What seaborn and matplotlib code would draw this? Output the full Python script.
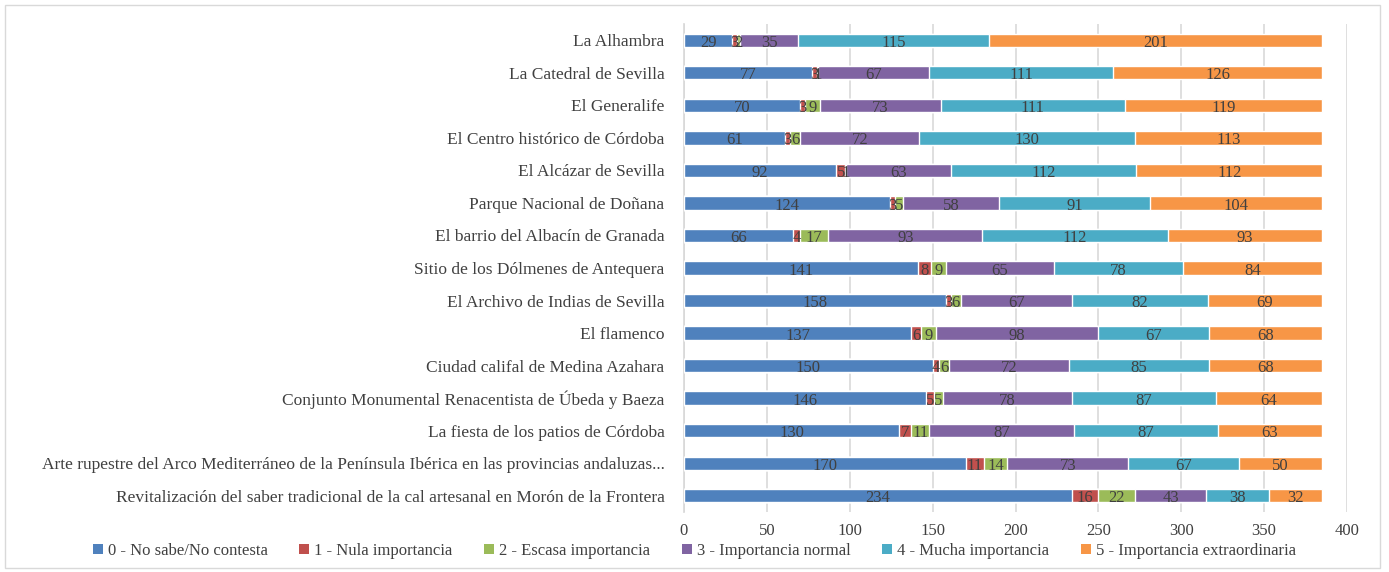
import numpy as np
import pandas as pd
import matplotlib
matplotlib.use("Agg")
import matplotlib.pyplot as plt
import seaborn as sns
from matplotlib.patches import Rectangle, Patch

categories = [
    "La Alhambra",
    "La Catedral de Sevilla",
    "El Generalife",
    "El Centro histórico de Córdoba",
    "El Alcázar de Sevilla",
    "Parque Nacional de Doñana",
    "El barrio del Albacín de Granada",
    "Sitio de los Dólmenes de Antequera",
    "El Archivo de Indias de Sevilla",
    "El flamenco",
    "Ciudad califal de Medina Azahara",
    "Conjunto Monumental Renacentista de Úbeda y Baeza",
    "La fiesta de los patios de Córdoba",
    "Arte rupestre del Arco Mediterráneo de la Península Ibérica en las provincias andaluzas...",
    "Revitalización del saber tradicional de la cal artesanal en Morón de la Frontera",
]
series_names = [
    "0 - No sabe/No contesta",
    "1 - Nula importancia",
    "2 - Escasa importancia",
    "3 - Importancia normal",
    "4 - Mucha importancia",
    "5 - Importancia extraordinaria",
]
s0 = [29, 77, 70, 61, 92, 124, 66, 141, 158, 137, 150, 146, 130, 170, 234]
s1 = [3, 3, 3, 3, 5, 3, 4, 8, 3, 6, 4, 5, 7, 11, 16]
s2 = [2, 1, 9, 6, 1, 5, 17, 9, 6, 9, 6, 5, 11, 14, 22]
s3 = [35, 67, 73, 72, 63, 58, 93, 65, 67, 98, 72, 78, 87, 73, 43]
s4 = [115, 111, 111, 130, 112, 91, 112, 78, 82, 67, 85, 87, 87, 67, 38]
s5 = [201, 126, 119, 113, 112, 104, 93, 84, 69, 68, 68, 64, 63, 50, 32]
xticks = [0, 50, 100, 150, 200, 250, 300, 350, 400]

colors = ["#4F81BD", "#C0504D", "#9BBB59", "#8064A2", "#4BACC6", "#F79646"]
series = [s0, s1, s2, s3, s4, s5]

sns.set_theme(style="white")
plt.rcParams['font.family'] = ['Liberation Serif', 'DejaVu Serif']
txtc = "#404040"

fig = plt.figure(figsize=(13.89, 5.72), dpi=100)
ax = fig.add_axes([684/1389, 1-512/572, (1347-684)/1389, (512-24)/572])

data = np.array(series, dtype=float)
cum = np.cumsum(data, axis=0)
for i in range(5, -1, -1):
    df = pd.DataFrame({"cat": categories, "val": cum[i]})
    sns.barplot(data=df, x="val", y="cat", orient="h", color=colors[i],
                saturation=1, width=0.41, ax=ax, order=categories, zorder=3)

for i in range(6):
    lefts = cum[i] - data[i]
    for j, v in enumerate(data[i]):
        ax.text(lefts[j] + v / 2, j + 0.08, f"{int(v)}", ha="center", va="center",
                fontsize=12, color=txtc, zorder=5)

ax.set_xlim(0, 400)
ax.set_xticks(xticks)
ax.set_xticklabels([str(t) for t in xticks], fontsize=12, color=txtc)
ax.set_ylim(len(categories) - 0.5, -0.5)
ax.set_xlabel("")
ax.set_ylabel("")
ax.tick_params(axis="y", labelsize=12.5, labelcolor=txtc, length=0, pad=14)
ax.tick_params(axis="x", length=0, pad=8)
ax.grid(axis="x", color="#D9D9D9", linewidth=1.2, zorder=0)
ax.set_axisbelow(True)
for sp in ["top", "right", "bottom"]:
    ax.spines[sp].set_visible(False)
ax.spines["left"].set_color("#D9D9D9")

handles = [Patch(facecolor=c, edgecolor="none") for c in colors]
fig.legend(handles, series_names, loc="center", bbox_to_anchor=(0.5, 1-551/572),
           ncol=6, frameon=False, fontsize=12, handlelength=0.6, handleheight=0.6,
           handletextpad=0.3, columnspacing=1.9, labelcolor=txtc)

fig.patches.append(Rectangle((5/1389, 1-568/572), 1375/1389, 563/572,
                             transform=fig.transFigure, fill=False,
                             edgecolor="#D9D9D9", linewidth=1))

fig.savefig("out.png", dpi=100)
